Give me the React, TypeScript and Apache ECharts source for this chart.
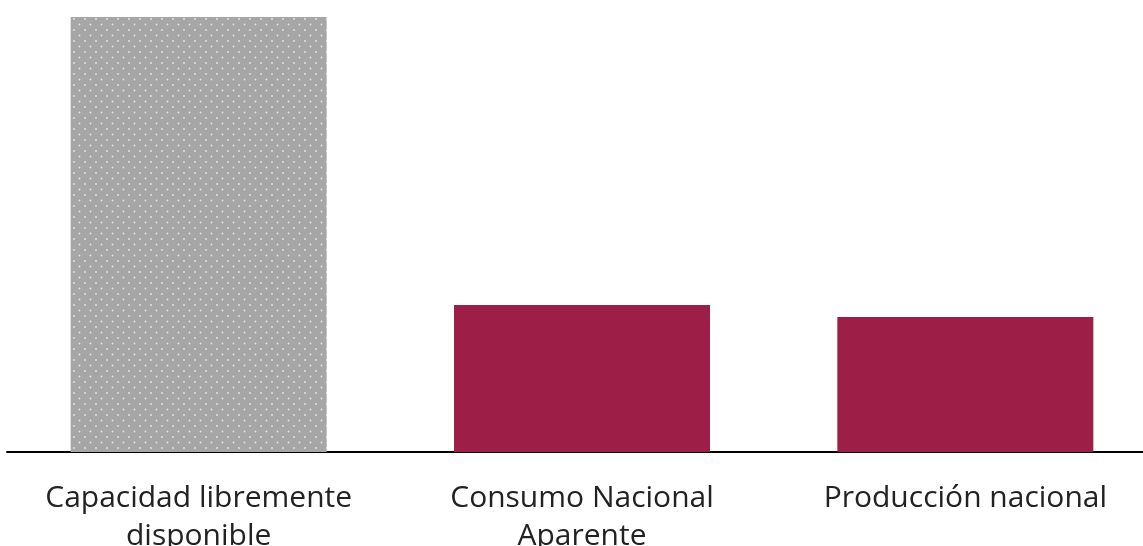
import React, { useEffect, useRef } from "react";
import * as echarts from "echarts";

const categories = ["Capacidad libremente\ndisponible", "Consumo Nacional\nAparente", "Producción nacional"];
const values = [435, 147, 135];
const yMax = 435;

function makeDots(): HTMLCanvasElement {
  const c = document.createElement("canvas");
  c.width = 11;
  c.height = 11;
  const ctx = c.getContext("2d")!;
  ctx.fillStyle = "#a6a6a6";
  ctx.fillRect(0, 0, 11, 11);
  ctx.fillStyle = "#e6e6e6";
  ctx.beginPath();
  ctx.arc(2.5, 2.5, 0.9, 0, Math.PI * 2);
  ctx.fill();
  ctx.beginPath();
  ctx.arc(8, 8, 0.9, 0, Math.PI * 2);
  ctx.fill();
  return c;
}

export default function App() {
  const ref = useRef<HTMLDivElement>(null);
  useEffect(() => {
    const chart = echarts.init(ref.current!, undefined, { renderer: "svg" });
    const pattern = { image: makeDots(), repeat: "repeat" };
    chart.setOption({
      animation: false,
      grid: {
        left: 7,
        top: 17,
        width: 1150,
        height: 435,
        containLabel: false,
        outerBoundsMode: "none",
      },
      xAxis: {
        type: "category",
        data: categories,
        axisLine: { lineStyle: { color: "#000", width: 2 } },
        axisTick: { show: false },
        axisLabel: {
          margin: 24,
          fontFamily: "Open Sans",
          fontSize: 30,
          lineHeight: 38,
          color: "#222",
          interval: 0,
        },
      },
      yAxis: { type: "value", min: 0, max: yMax, show: false, splitLine: { show: false } },
      series: [
        {
          type: "bar",
          barWidth: 256,
          data: values.map((v, i) => ({
            value: v,
            itemStyle: { color: i === 0 ? (pattern as any) : "#9d1f48" },
          })),
        },
      ],
    });
    return () => chart.dispose();
  }, []);
  return (
    <div style={{ position: "fixed", left: 0, top: 0, width: 1143, height: 546, overflow: "hidden" }}>
      <div ref={ref} style={{ width: 1143, height: 546, overflow: "hidden" }} />
    </div>
  );
}
